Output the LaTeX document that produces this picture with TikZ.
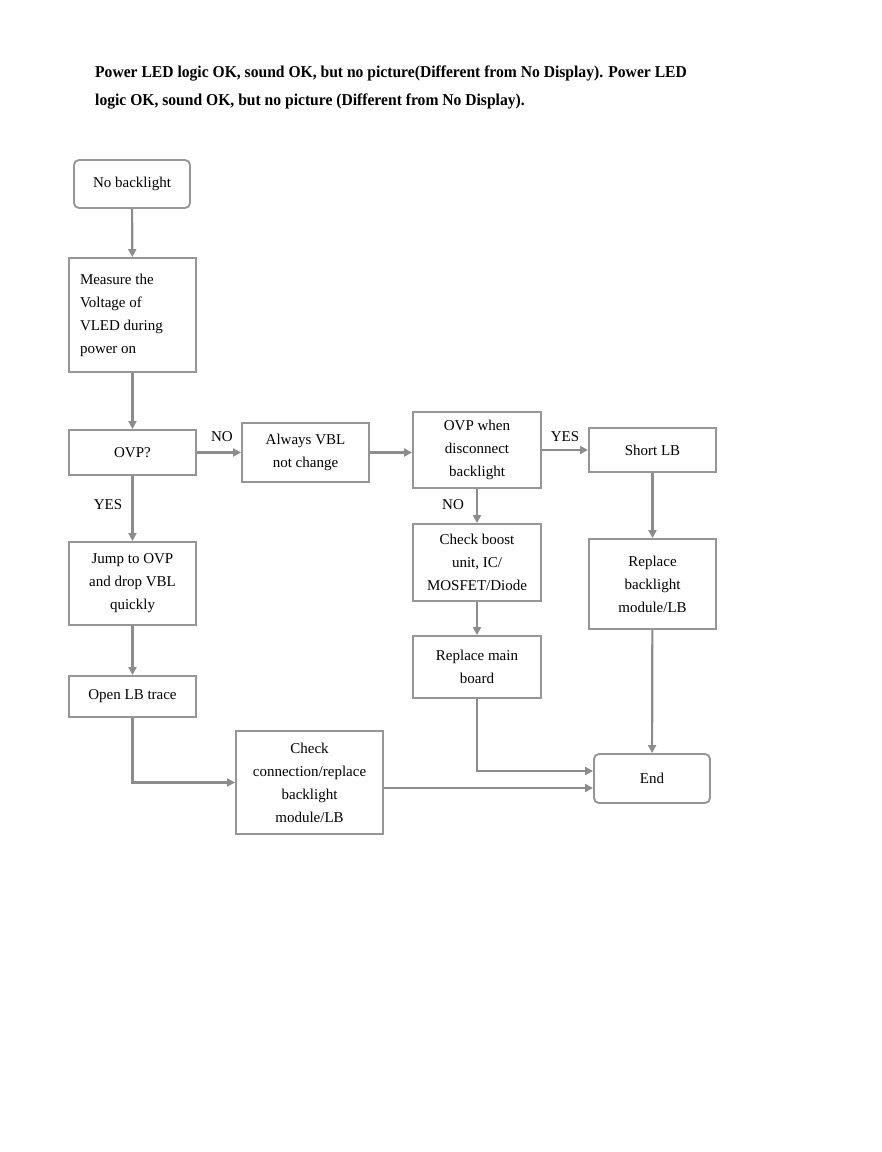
\documentclass[tikz,border=0pt]{standalone}
\usepackage{fontspec}
\setmainfont{Liberation Serif}
\newfontfamily\titlefont[FakeStretch=0.94]{Liberation Serif}
\usetikzlibrary{arrows.meta,calc}
\definecolor{lnc}{RGB}{140,140,140}
\definecolor{bxc}{RGB}{150,150,150}
\tikzset{
  box/.style={draw=bxc, line width=1.9pt, rectangle, inner sep=0pt, align=center,
    font=\fontsize{15}{23}\selectfont, text=black},
  rbox/.style={box, rounded corners=5pt},
  conn/.style={draw=lnc, line width=2.2pt, -{Triangle[width=8pt,length=8pt]}},
  lbl/.style={font=\fontsize{15}{18}\selectfont, inner sep=0pt}
}
\begin{document}
\begin{tikzpicture}[x=1pt,y=-1pt]
\useasboundingbox (0,0) rectangle (882,1152);
\node[anchor=north west, align=flush left, inner sep=0pt, font=\titlefont\bfseries\fontsize{16.6}{28}\selectfont] (title) at (95,66)
 {Power LED logic OK, sound OK, but no picture(Different from No Display). Power LED\\
  logic OK, sound OK, but no picture (Different from No Display).};

\node[rbox, minimum width=116pt, minimum height=48pt] (nb) at (132,184) {No backlight};
\node[box, minimum width=127pt, minimum height=114pt, align=flush left, text width=105pt] (meas) at (132.5,315)
 {Measure the\\Voltage of\\VLED during\\power on};
\node[box, minimum width=127pt, minimum height=45pt] (ovp) at (132.5,452.5) {OVP?};
\node[box, minimum width=127pt, minimum height=59pt] (always) at (305.5,452.5) {Always VBL\\not change};
\node[box, minimum width=128pt, minimum height=76pt] (ovpw) at (477,450) {OVP when\\disconnect\\backlight};
\node[box, minimum width=127pt, minimum height=44pt] (short) at (652.5,450) {Short LB};
\node[box, minimum width=127pt, minimum height=83pt] (jump) at (132.5,583.5) {Jump to OVP\\and drop VBL\\quickly};
\node[box, minimum width=128pt, minimum height=77pt] (boost) at (477,562.5) {Check boost\\unit, IC/\\MOSFET/Diode};
\node[box, minimum width=127pt, minimum height=90pt] (repbl) at (652.5,584) {Replace\\backlight\\module/LB};
\node[box, minimum width=128pt, minimum height=62pt] (repmain) at (477,667) {Replace main\\board};
\node[box, minimum width=127pt, minimum height=41pt] (openlb) at (132.5,696.5) {Open LB trace};
\node[box, minimum width=147pt, minimum height=103pt] (chk) at (309.5,782.5) {Check\\connection/replace\\backlight\\module/LB};
\node[rbox, minimum width=116pt, minimum height=49pt] (end) at (652,778.5) {End};

\draw[conn] (nb) -- (meas);
\draw[conn] (meas) -- (ovp);
\draw[conn] (ovp.east) -- (always.west);
\draw[conn] (always.east) -- (always.east -| ovpw.west);
\draw[conn] (ovpw.east) -- (short.west);
\draw[conn] (ovp) -- (jump);
\draw[conn] (ovpw) -- (boost);
\draw[conn] (short) -- (repbl);
\draw[conn] (jump) -- (openlb);
\draw[conn] (boost) -- (repmain);
\draw[conn] (openlb.south) |- (chk.west);
\coordinate (e1) at ([yshift=7.5pt]end.west);
\draw[conn] (repmain.south) |- (e1);
\coordinate (c1) at ([yshift=-5.5pt]chk.east);
\draw[conn] (c1) -- (c1 -| end.west);
\draw[conn] (repbl) -- (end);

\node[lbl] (lno1) at (222,437) {NO};
\node[lbl] (lyes1) at (565,437) {YES};
\node[lbl] (lyes2) at (108,505) {YES};
\node[lbl] (lno2) at (453,505) {NO};
\end{tikzpicture}
\end{document}
